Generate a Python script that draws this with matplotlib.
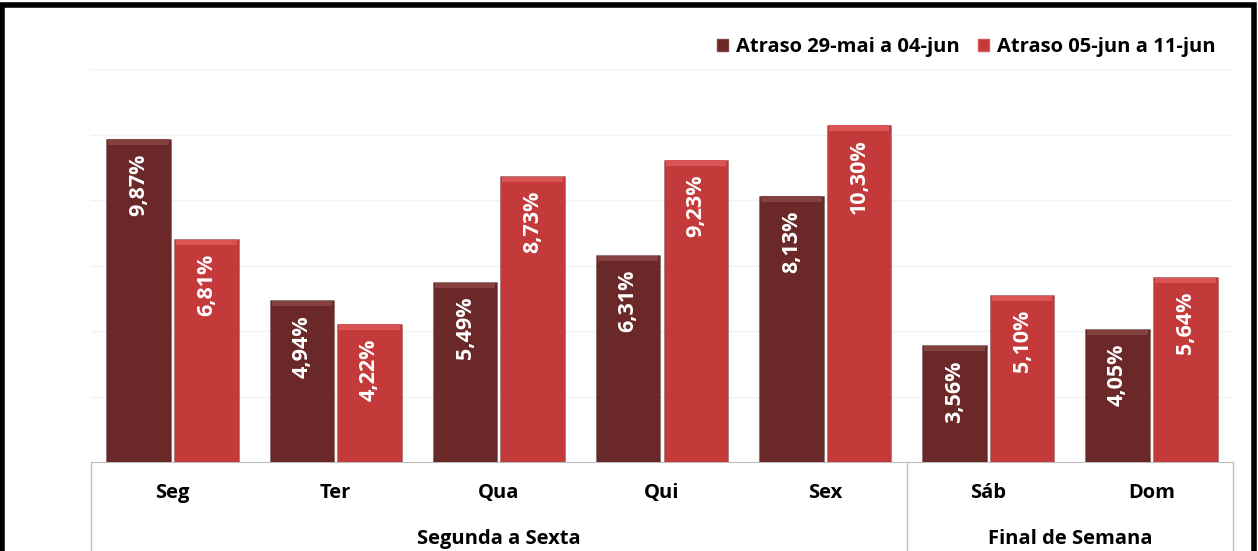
import matplotlib
matplotlib.use("Agg")
import matplotlib.pyplot as plt
from matplotlib.patches import Patch, Rectangle
from matplotlib.lines import Line2D
from matplotlib.transforms import blended_transform_factory
import numpy as np

# data
days = ["Seg", "Ter", "Qua", "Qui", "Sex", "Sáb", "Dom"]
week_1 = [9.87, 4.94, 5.49, 6.31, 8.13, 3.56, 4.05]
week_2 = [6.81, 4.22, 8.73, 9.23, 10.30, 5.10, 5.64]
series_names = ["Atraso 29-mai a 04-jun", "Atraso 05-jun a 11-jun"]
groups = ["Segunda a Sexta", "Final de Semana"]
group_spans = [(0, 4), (5, 6)]

plt.rcParams['font.family'] = ['Open Sans', 'DejaVu Sans']

dark = "#6B2828"
dark_hi = "#854040"
red = "#C43A3A"
red_hi = "#D95454"

fig = plt.figure(figsize=(12.58, 5.51), dpi=100)
ax = fig.add_axes([91 / 1258, (551 - 462) / 551, (1233 - 91) / 1258, (462 - 69) / 551])

x = np.arange(len(days))
w = 0.395

def bevel_bars(xpos, vals, base, hi):
    ax.bar(xpos, vals, w, color=base, edgecolor="#00000030", linewidth=0.8, zorder=3)
    # light strip on top to mimic the bevel
    ax.bar(xpos, [0.16] * len(vals), w * 0.94, bottom=np.array(vals) - 0.18,
           color=hi, linewidth=0, zorder=4)

bevel_bars(x - w / 2 - 0.01, week_1, dark, dark_hi)
bevel_bars(x + w / 2 + 0.01, week_2, red, red_hi)

for xs, vals in ((x - w / 2 - 0.01, week_1), (x + w / 2 + 0.01, week_2)):
    for xi, v in zip(xs, vals):
        ax.text(xi, v - 0.45, f"{v:.2f}%".replace(".", ","), rotation=90,
                ha="center", va="top", color="white", fontsize=15.5,
                fontweight="bold", zorder=5)

ax.set_xlim(-0.5, len(days) - 0.5)
ax.set_ylim(0, 12)
ax.set_yticks(np.arange(2, 13, 2))
ax.yaxis.grid(True, color="#F2F2F2", linewidth=1)
ax.set_axisbelow(True)
ax.tick_params(left=False, labelleft=False, bottom=False, labelbottom=False)
for s in ["top", "right", "left"]:
    ax.spines[s].set_visible(False)
ax.spines["bottom"].set_color("#BFBFBF")

# two-level category axis
tr = blended_transform_factory(ax.transData, fig.transFigure)
base_y = (551 - 462) / 551
for d, xi in zip(days, x):
    ax.text(xi, 0.105, d, transform=tr, ha="center", va="center",
            fontsize=14.5, fontweight="bold")
for g, (a, b) in zip(groups, group_spans):
    ax.text((a + b) / 2, 0.022, g, transform=tr, ha="center", va="center",
            fontsize=14.5, fontweight="bold")
for xb in (-0.5, 4.5, 6.5):
    fig.add_artist(Line2D([xb, xb], [-0.01, base_y], transform=tr,
                          color="#BFBFBF", linewidth=1, clip_on=False))

handles = [Patch(facecolor=dark, edgecolor=dark_hi),
           Patch(facecolor=red, edgecolor=red_hi)]
fig.legend(handles, series_names, loc="center right",
           bbox_to_anchor=(0.981, 0.915), ncol=2, frameon=False,
           prop={"weight": "bold", "size": 14.5}, handlelength=0.55,
           handleheight=0.55, handletextpad=0.4, columnspacing=0.9)

# outer frame (bottom is cut off in the reference)
fig.add_artist(Rectangle((2 / 1258, -0.05), 1252 / 1258, 1.05 - 5 / 551,
                         transform=fig.transFigure, fill=False,
                         edgecolor="black", linewidth=4, clip_on=False))

fig.savefig("out.png", dpi=100, facecolor="white")
